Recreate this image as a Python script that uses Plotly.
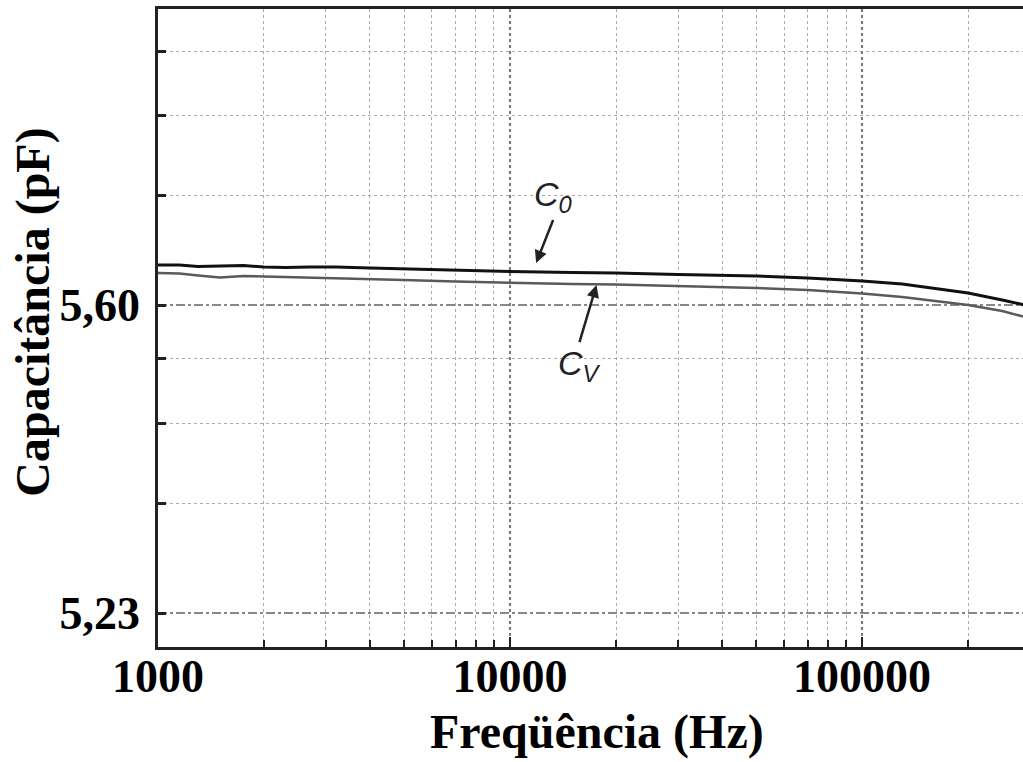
import math
import plotly.graph_objects as go

# ---- data ----
freq_hz = [1000, 1150, 1300, 1500, 1750, 2000, 2300, 2700, 3200, 4000, 5000, 7000,
           10000, 15000, 20000, 30000, 50000, 70000, 100000, 130000, 160000, 200000,
           250000, 290000]
c0_pf = [5.648, 5.648, 5.6462, 5.6469, 5.6475, 5.6457, 5.645, 5.6457, 5.6457, 5.6444,
         5.6432, 5.642, 5.6402, 5.639, 5.6384, 5.6366, 5.6348, 5.6324, 5.6288, 5.6252,
         5.6204, 5.6144, 5.606, 5.600]
cv_pf = [5.6384, 5.6378, 5.6354, 5.633, 5.6348, 5.6342, 5.6342, 5.633, 5.6324, 5.6312,
         5.63, 5.6282, 5.6264, 5.6252, 5.6246, 5.6228, 5.6204, 5.618, 5.6138, 5.6096,
         5.6054, 5.600, 5.5928, 5.5856]

x_major_ticks = [1000, 10000, 100000]
x_major_text = ["1000", "10000", "100000"]
x_minor_ticks = [2000, 3000, 4000, 5000, 6000, 7000, 8000, 9000,
                 20000, 30000, 40000, 50000, 60000, 70000, 80000, 90000,
                 200000]
y_major_ticks = [5.23, 5.60]
y_major_text = ["5,23", "5,60"]
y_minor_ticks = [5.362, 5.458, 5.536, 5.731, 5.828, 5.904]

x_range_log = [3.0, 5.457]
y_range = [5.1892, 5.9556]

# label arrow tips (data coords: Hz, pF)
c0_tip = (11860, 5.6505)
cv_tip = (17600, 5.624)

TXT = dict(family="Liberation Serif", size=46, color="black", weight="bold")

fig = go.Figure()
fig.add_trace(go.Scatter(x=freq_hz, y=cv_pf, mode="lines",
                         line=dict(color="#5a5a5a", width=2.5), name="Cv"))
fig.add_trace(go.Scatter(x=freq_hz, y=c0_pf, mode="lines",
                         line=dict(color="#111111", width=3), name="C0"))

fig.update_xaxes(
    type="log", range=x_range_log,
    tickmode="array", tickvals=x_major_ticks, ticktext=x_major_text,
    tickfont=TXT, ticks="inside", ticklen=10, tickwidth=2, tickcolor="#222",
    showgrid=True, gridcolor="#777", griddash="dot", gridwidth=1.5,
    showline=True, linecolor="#222", linewidth=2.5, mirror=True,
    ticklabelstandoff=-13,
    minor=dict(tickmode="array", tickvals=x_minor_ticks, ticks="inside",
               ticklen=7, tickwidth=1.5, tickcolor="#222",
               showgrid=True, gridcolor="#aaaaaa", griddash="dot", gridwidth=1),
    zeroline=False,
)
fig.update_yaxes(
    range=y_range,
    tickmode="array", tickvals=y_major_ticks, ticktext=y_major_text,
    tickfont=TXT, ticks="inside", ticklen=8, tickwidth=2.5, tickcolor="#222",
    showgrid=True, gridcolor="#888", griddash="dashdot", gridwidth=1.5,
    showline=True, linecolor="#222", linewidth=2.5, mirror=False,
    ticklabelstandoff=6,
    minor=dict(tickmode="array", tickvals=y_minor_ticks, ticks="inside",
               ticklen=8, tickwidth=2.5, tickcolor="#222",
               showgrid=True, gridcolor="#aaaaaa", griddash="dot", gridwidth=1),
    zeroline=False,
)

lx0 = math.log10(c0_tip[0])
lxv = math.log10(cv_tip[0])
LBL = dict(family="Liberation Sans", size=34, color="#222")

annos = [
    # axis titles
    dict(text="Freqüência (Hz)", xref="paper", yref="paper", x=0.508, y=-0.133,
         xanchor="center", yanchor="middle", showarrow=False,
         font=dict(family="Liberation Serif", size=48, color="black", weight="bold")),
    dict(text="Capacitância (pF)", xref="paper", yref="paper", x=-0.145, y=0.525,
         xanchor="center", yanchor="middle", showarrow=False, textangle=-90,
         font=dict(family="Liberation Serif", size=48, color="black", weight="bold")),
    # labels with arrows
    dict(x=lx0, y=c0_tip[1], xref="x", yref="y", text="<i>C<sub>0</sub></i>",
         showarrow=True, ax=17, ay=-43, xanchor="center", yanchor="bottom",
         arrowhead=2, arrowsize=1, arrowwidth=2.5, arrowcolor="#222",
         standoff=0, startstandoff=0, font=LBL),
    dict(x=lxv, y=cv_tip[1], xref="x", yref="y", text="<i>C<sub>V</sub></i>",
         showarrow=True, ax=-17, ay=57, xanchor="center", yanchor="top",
         arrowhead=2, arrowsize=1, arrowwidth=2.5, arrowcolor="#222",
         standoff=0, startstandoff=0, font=LBL),
]

fig.update_layout(
    width=1023, height=762,
    margin=dict(l=158, r=0, t=9, b=115),
    paper_bgcolor="white", plot_bgcolor="white",
    showlegend=False,
    annotations=annos,
)

fig.write_html("out.html")
